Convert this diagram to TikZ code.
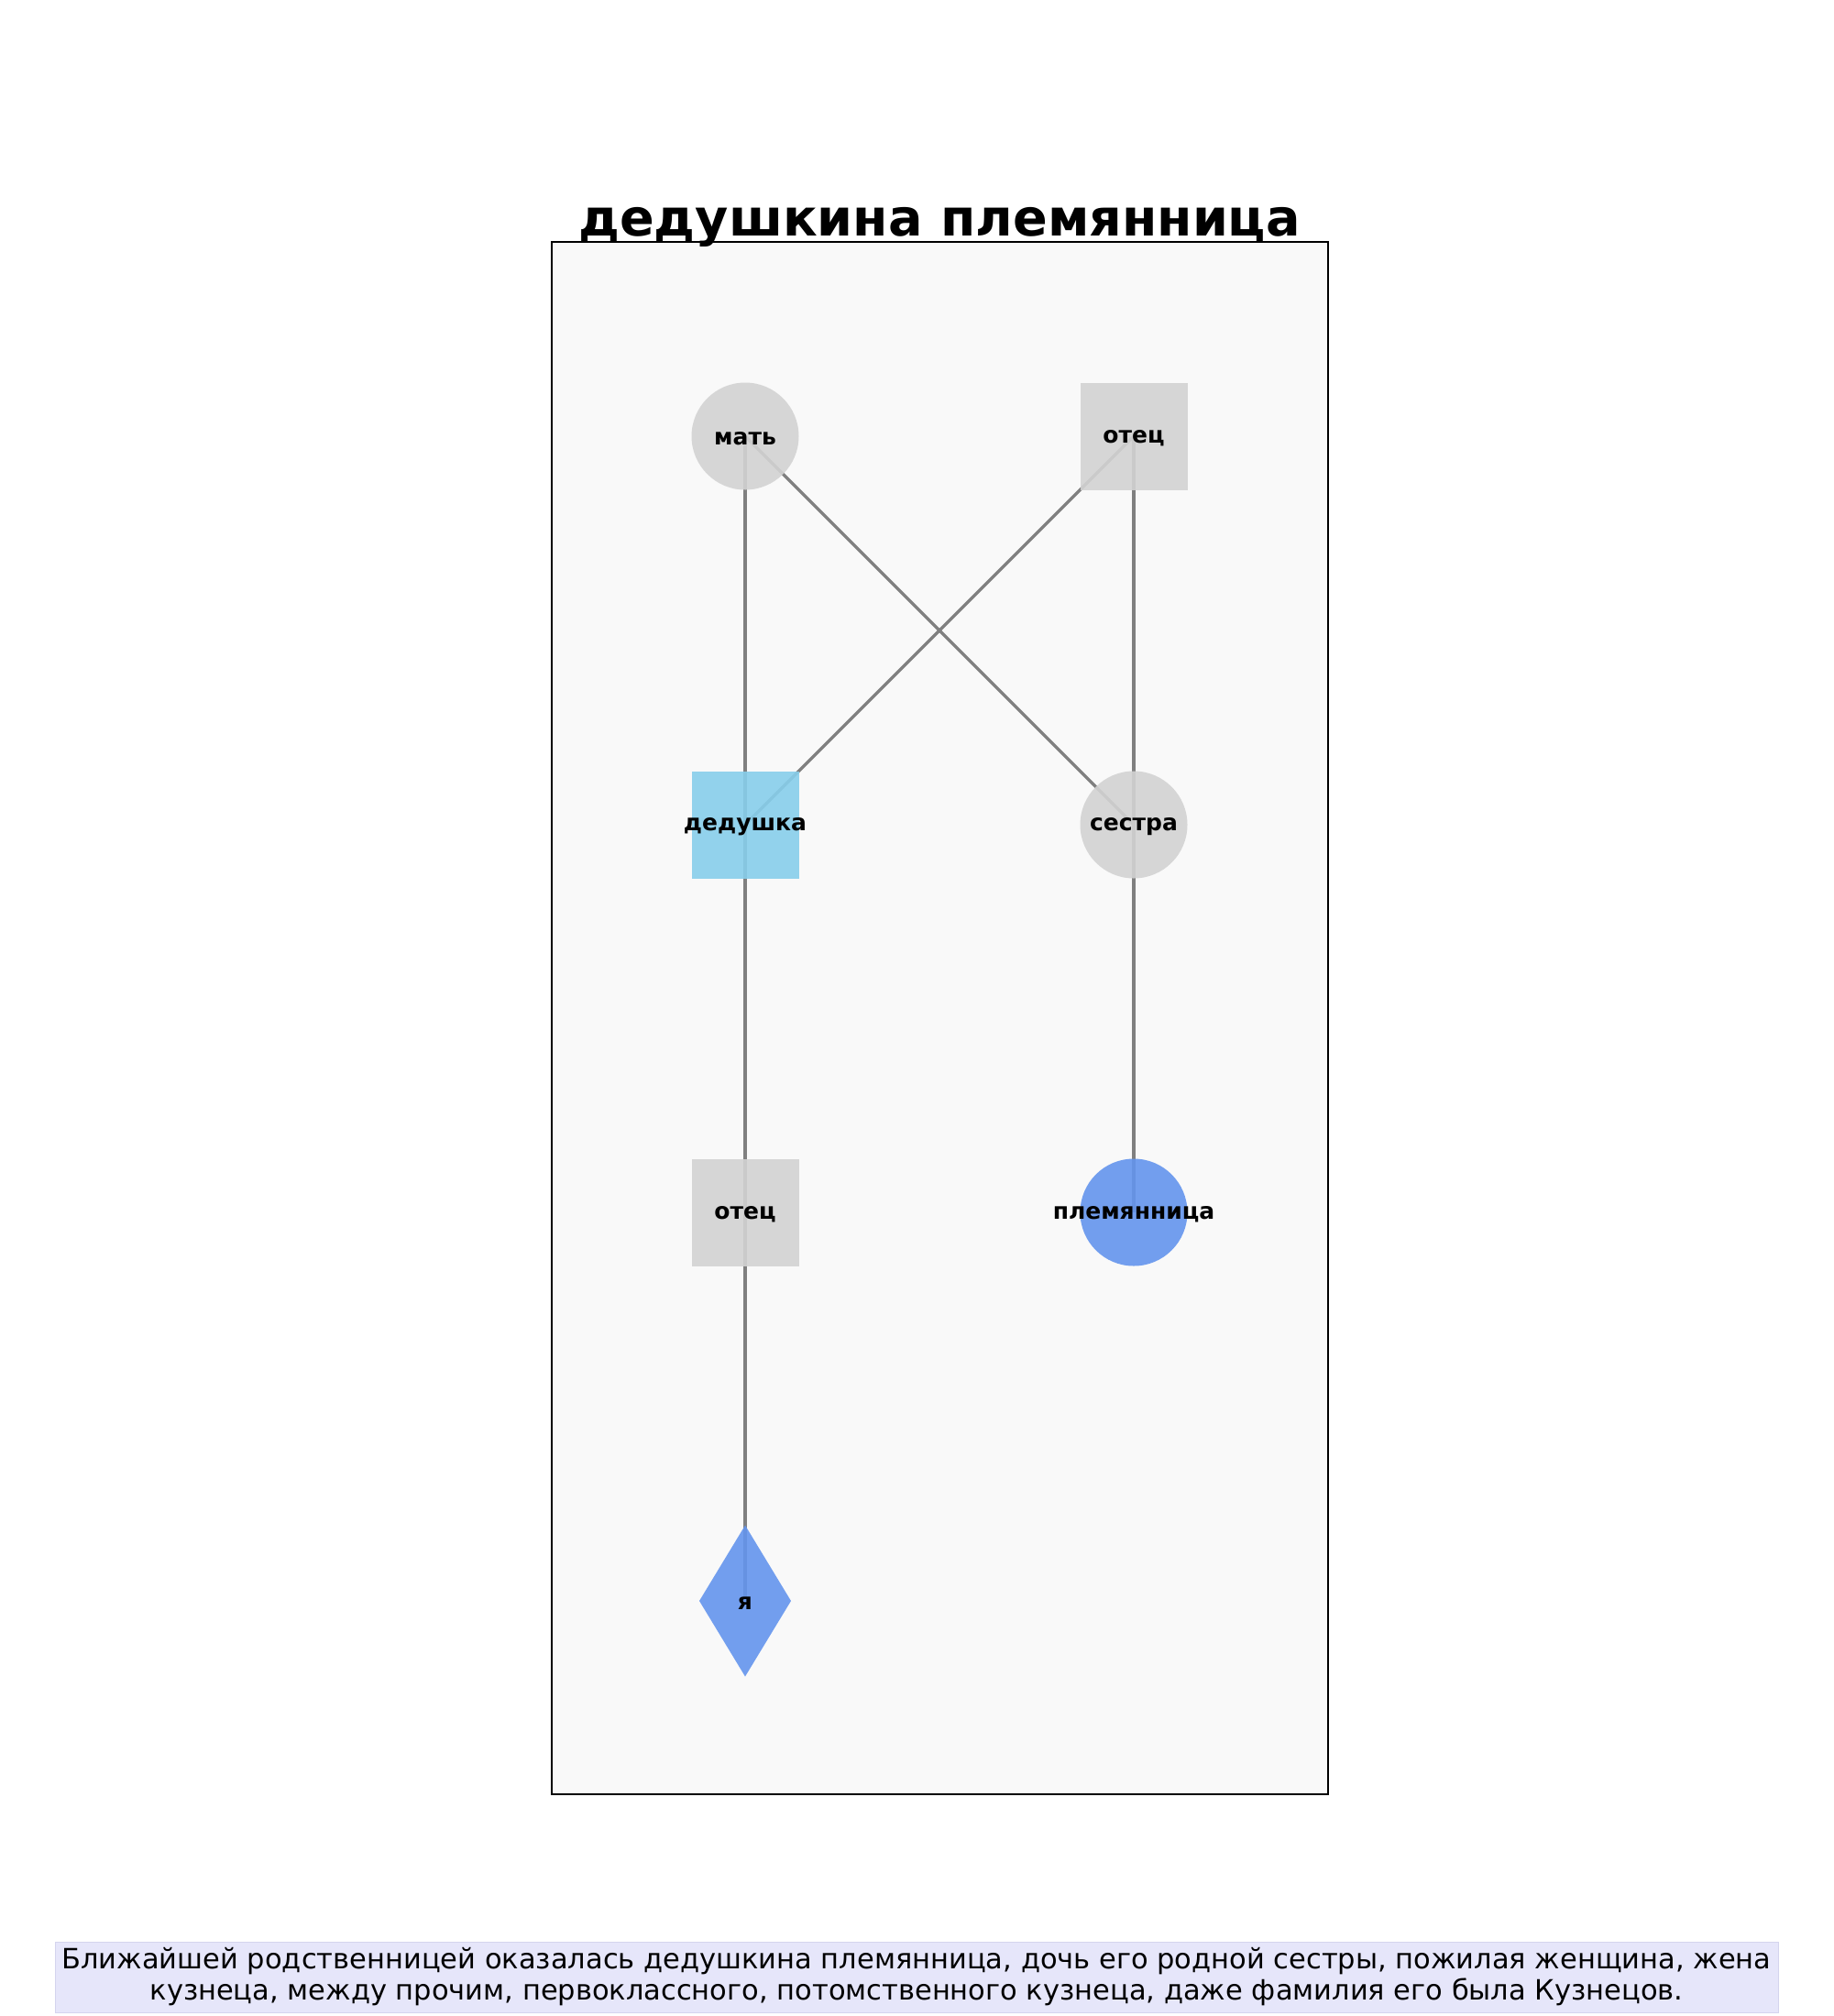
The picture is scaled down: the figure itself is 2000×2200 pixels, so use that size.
\documentclass[tikz,border=0pt]{standalone}
\usepackage{fontspec}
\setmainfont{DejaVu Sans}
\usetikzlibrary{shapes.geometric}
\pgfdeclarelayer{bg}
\pgfdeclarelayer{edges}
\pgfsetlayers{bg,edges,main}
\definecolor{panelbg}{HTML}{F9F9F9}
\definecolor{nodegray}{HTML}{D3D3D3}
\definecolor{skyb}{HTML}{87CEEB}
\definecolor{cblue}{HTML}{6495ED}
\definecolor{edgegray}{HTML}{808080}
\definecolor{capfill}{HTML}{E6E6FA}
\definecolor{capdraw}{HTML}{D4D4EE}
\tikzset{
  person/.style={inner sep=0pt, outer sep=0pt, fill opacity=0.9, text opacity=1},
  plabel/.style={font=\fontsize{25}{30}\selectfont\bfseries, text=black, inner sep=0pt, fill opacity=1, yshift=-2.5pt},
  sqnode/.style={person, rectangle, minimum width=117pt, minimum height=117pt},
  circnode/.style={person, circle, minimum size=117pt},
  dianode/.style={person, diamond, minimum width=100pt, minimum height=165pt, aspect=0.6},
  rel/.style={draw=edgegray, line width=3.4pt},
}
\begin{document}
\begin{tikzpicture}[x=1pt,y=-1pt]
\useasboundingbox (0,0) rectangle (2000,2200);
\begin{pgfonlayer}{bg}
\fill[white] (0,0) rectangle (2000,2200);
\draw[fill=panelbg, draw=black, line width=1.4pt] (602,264) rectangle (1449,1958);
\end{pgfonlayer}
\node[font=\fontsize{55.6}{66}\selectfont\bfseries, anchor=base] (title) at (1025,257) {дедушкина племянница};

\node[circnode, fill=nodegray, label={[plabel]center:мать}] (mat) at (813,476) {};
\node[sqnode, fill=nodegray, label={[plabel]center:отец}] (otec1) at (1237,476) {};
\node[sqnode, fill=skyb, label={[plabel]center:дедушка}] (ded) at (813,900) {};
\node[circnode, fill=nodegray, label={[plabel]center:сестра}] (sestra) at (1237,900) {};
\node[sqnode, fill=nodegray, label={[plabel]center:отец}] (otec2) at (813,1323) {};
\node[circnode, fill=cblue, label={[plabel]center:племянница}] (plem) at (1237,1323) {};
\node[dianode, fill=cblue, label={[plabel]center:я}] (ya) at (813,1747) {};

\begin{pgfonlayer}{edges}
\draw[rel] (mat.center) -- (ded.center);
\draw[rel] (mat.center) -- (sestra.center);
\draw[rel] (otec1.center) -- (ded.center);
\draw[rel] (otec1.center) -- (sestra.center);
\draw[rel] (ded.center) -- (otec2.center);
\draw[rel] (otec2.center) -- (ya.center);
\draw[rel] (sestra.center) -- (plem.center);
\end{pgfonlayer}

\node[fill=capfill, draw=capdraw, line width=1pt, minimum width=1880pt, minimum height=77pt, inner sep=0pt,
  align=center, font=\fontsize{30.5}{34}\selectfont] (cap) at (1000,2157.5)
  {Ближайшей родственницей оказалась дедушкина племянница, дочь его родной сестры, пожилая женщина, жена\\
   кузнеца, между прочим, первоклассного, потомственного кузнеца, даже фамилия его была Кузнецов.};
\end{tikzpicture}
\end{document}
